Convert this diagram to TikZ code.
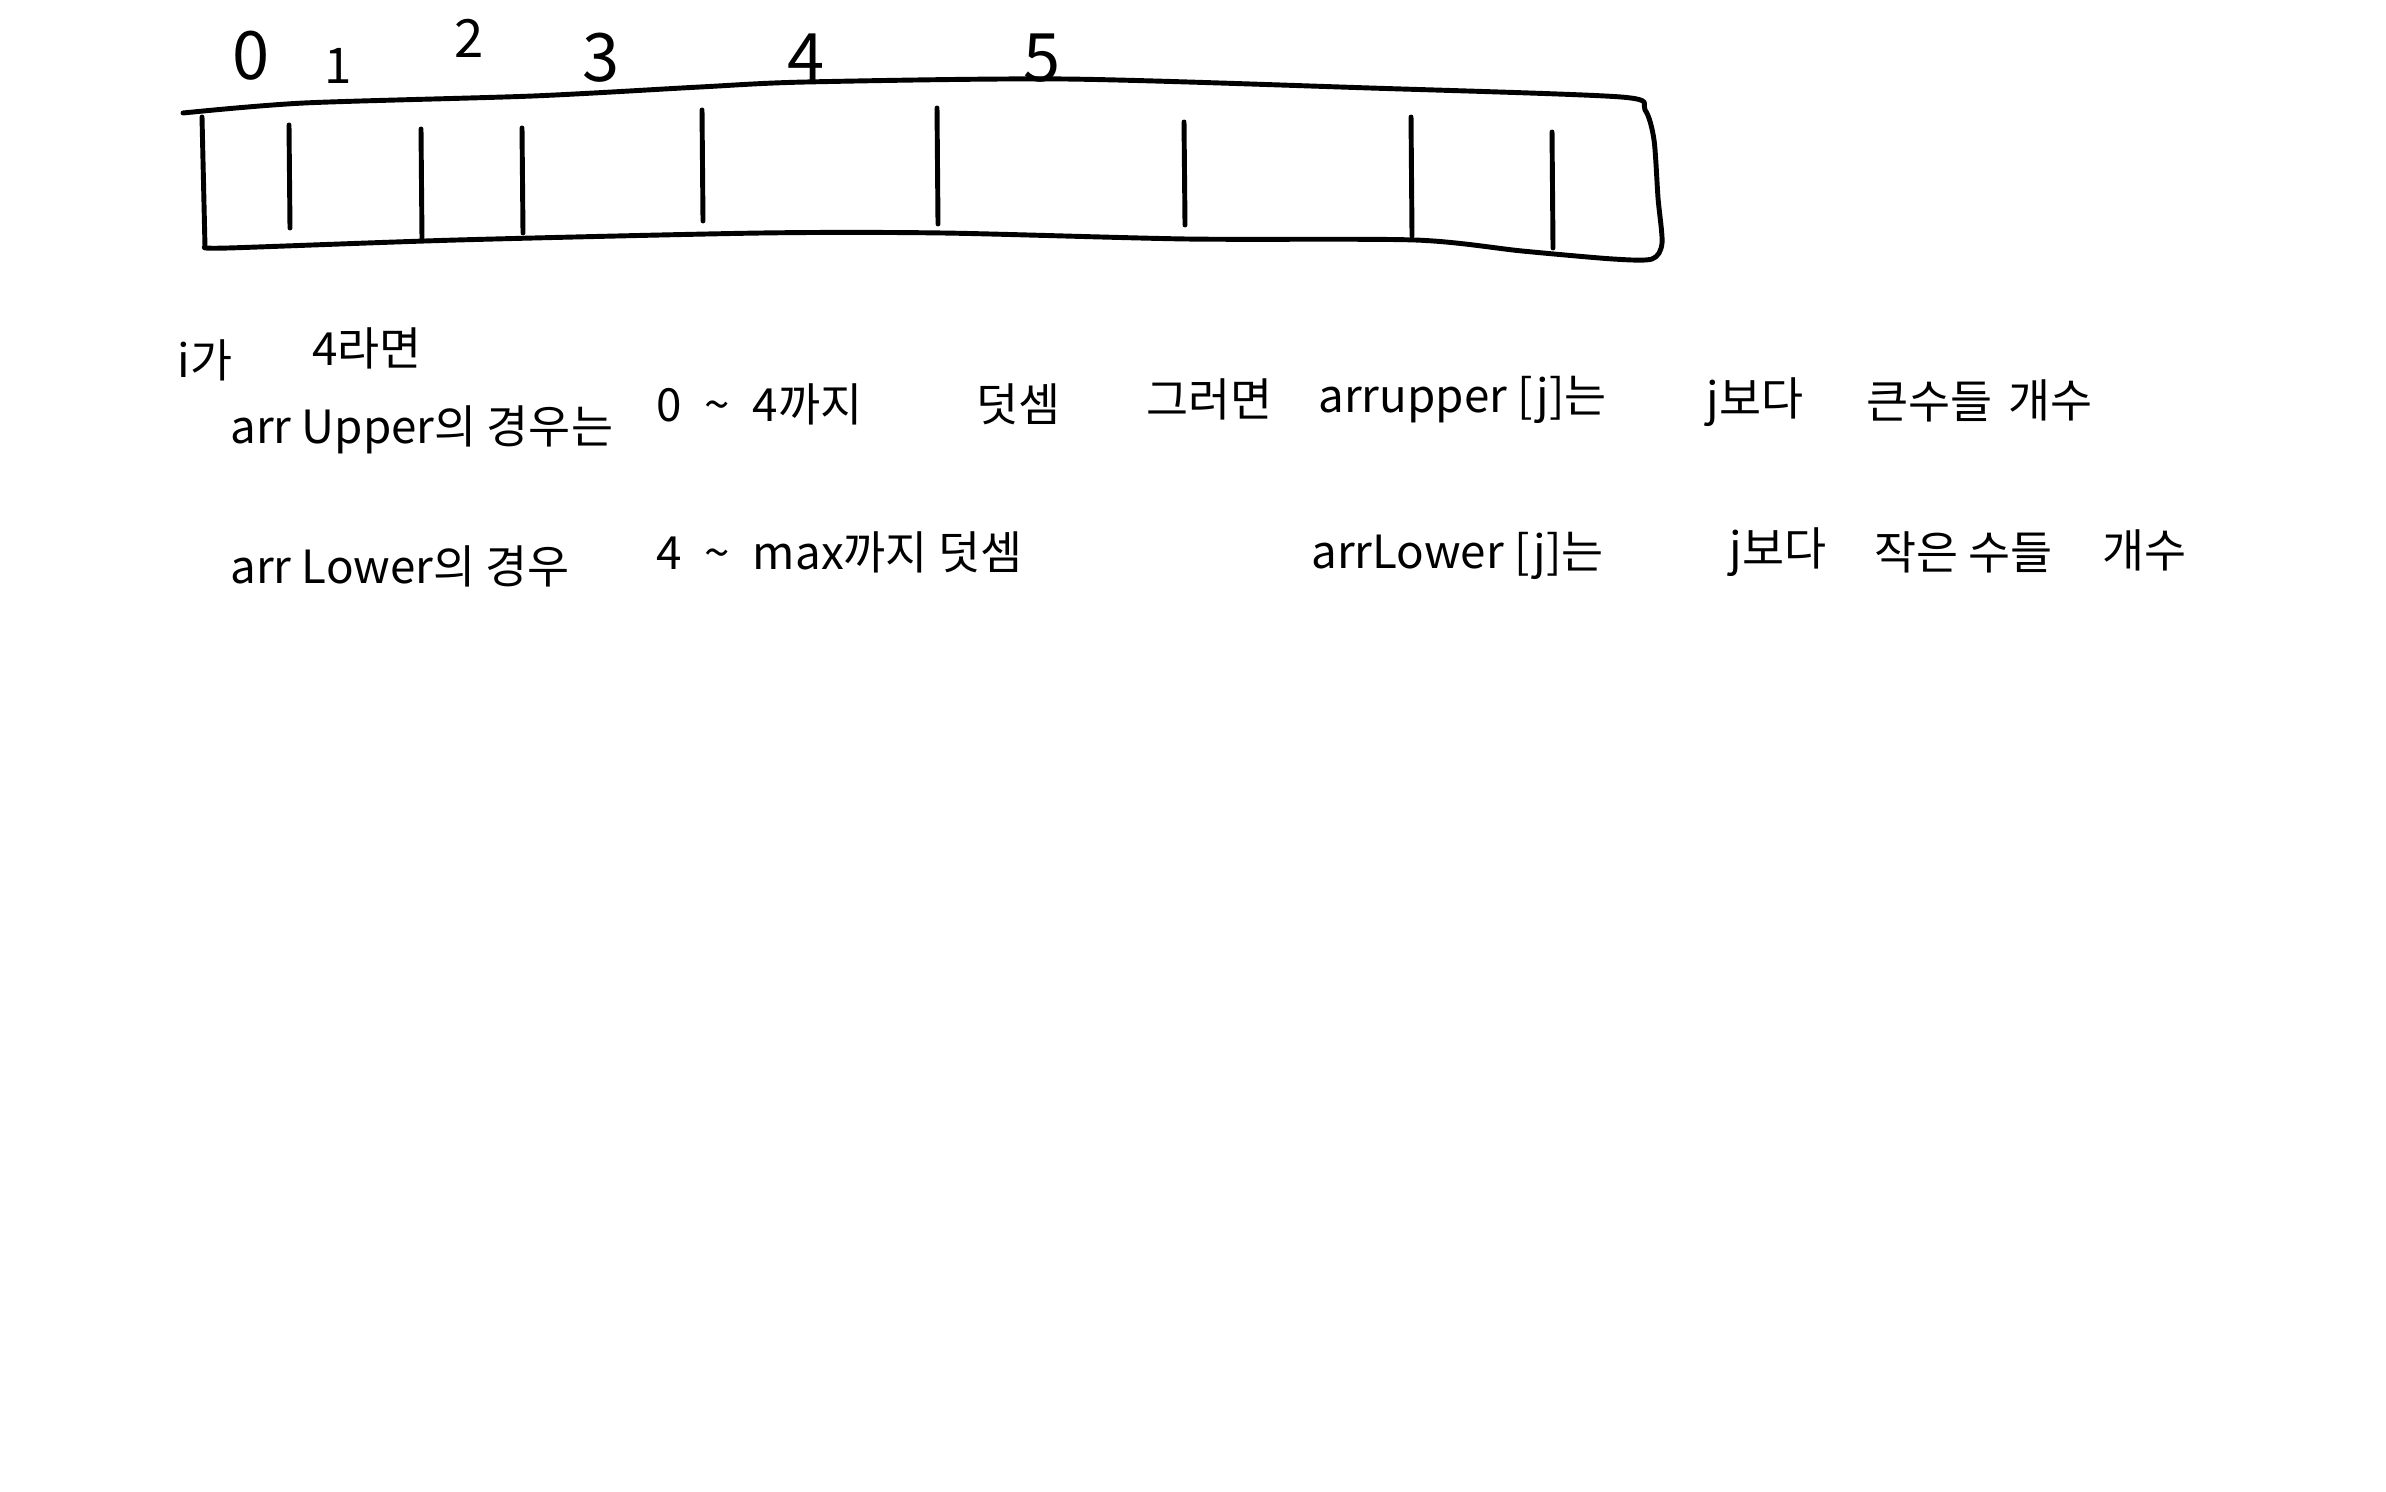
\documentclass[tikz,border=0pt]{standalone}
\usepackage{fontspec}
\setmainfont{Noto Sans CJK KR}
\begin{document}
\begin{tikzpicture}[x=0.01cm,y=-0.01cm,line width=1.4pt,line cap=round,
  idx/.style={inner sep=0pt,font=\fontsize{19}{22}\selectfont},
  memo/.style={anchor=west,inner sep=0pt,font=\fontsize{13}{16}\selectfont}]
  \useasboundingbox (0,0) rectangle (2386,1491);

  % array box
  \draw[line join=round] plot[smooth,tension=0.45] coordinates {
    (183,113) (304,103) (533,96) (700,87) (806,82) (1065,79) (1370,88)
    (1621,97) (1645,110) (1654,140) (1658,198) (1662,243) (1652,259)
    (1613,259) (1522,251) (1415,240) (1187,239) (943,233) (761,233)
    (457,240) (228,248) (205,247)};
  \draw (205,247) -- (202,117);

  % cell borders
  \foreach \x/\a/\b in {289/125/228, 421/129/239, 522/128/233, 702/110/221,
                        937/108/224, 1184/122/225, 1411/117/236, 1552/132/248}
    \draw (\x,\a) -- (\x+1,\b);

  % indices
  \node[idx] (n0) at (251,56) {0};
  \node[idx,font=\fontsize{14}{16}\selectfont] (n1) at (338,66) {1};
  \node[idx,font=\fontsize{15}{18}\selectfont] (n2) at (469,38) {2};
  \node[idx] (n3) at (601,58) {3};
  \node[idx] (n4) at (806,58) {4};
  \node[idx] (n5) at (1042,58) {5};

  % i = 4
  \node[memo] (ia) at (175,360) {i가};
  \node[memo] (ib) at (310,348) {4라면};

  % upper
  \node[memo] (ua) at (228,430) {arr Upper의 경우는};
  \node[memo] (ub) at (654,404) {0\enspace\textasciitilde\enspace 4까지};
  \node[memo] (uc) at (974,404) {덧셈};
  \node[memo] (ud) at (1144,399) {그러면};
  \node[memo] (ue) at (1316,400) {arrupper [j]는};
  \node[memo] (uf) at (1704,402) {j보다};
  \node[memo] (ug) at (1864,402) {큰수들};
  \node[memo] (uh) at (2006,400) {개수};

  % lower
  \node[memo] (la) at (228,566) {arr Lower의 경우};
  \node[memo] (lb) at (654,552) {4\enspace\textasciitilde\enspace max까지 덧셈};
  \node[memo] (lc) at (1309,556) {arrLower [j]는};
  \node[memo] (ld) at (1727,552) {j보다};
  \node[memo] (le) at (1872,552) {작은 수들};
  \node[memo] (lf) at (2100,550) {개수};
\end{tikzpicture}
\end{document}
